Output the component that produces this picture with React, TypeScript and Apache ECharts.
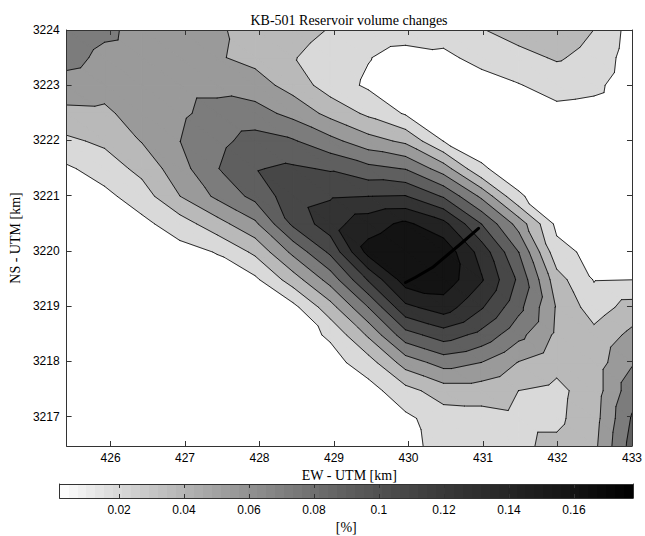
import React, { useEffect, useRef } from "react";
import * as echarts from "echarts";

const TITLE = "KB-501 Reservoir volume changes";

// grid nodes (EW west->east, NS north->south)
const X_NODES = [425.41, 425.92, 426.42, 426.93, 427.43, 427.94, 428.45, 428.95, 429.46, 429.96, 430.47, 430.98, 431.48, 431.99, 432.49, 433.0];
const Y_NODES = [3224.0, 3223.5, 3223.0, 3222.49, 3221.99, 3221.49, 3220.99, 3220.49, 3219.98, 3219.48, 3218.98, 3218.48, 3217.98, 3217.47, 3216.97, 3216.47];

// volume change [%], one row per NS node (north first)
const VOLUME_CHANGE = [
  [0.0829, 0.0758, 0.0670, 0.0670, 0.0573, 0.0476, 0.0432, 0.0361, 0.0299, 0.0282, 0.0264, 0.0361, 0.0441, 0.0458, 0.0369, 0.0123],
  [0.0785, 0.0679, 0.0661, 0.0670, 0.0564, 0.0494, 0.0379, 0.0299, 0.0202, 0.0123, 0.0158, 0.0246, 0.0317, 0.0388, 0.0317, 0.0105],
  [0.0652, 0.0617, 0.0661, 0.0679, 0.0679, 0.0626, 0.0476, 0.0282, 0.0167, 0.0105, 0.0096, 0.0123, 0.0185, 0.0264, 0.0238, 0.0088],
  [0.0502, 0.0511, 0.0635, 0.0697, 0.0776, 0.0794, 0.0670, 0.0494, 0.0335, 0.0176, 0.0123, 0.0096, 0.0105, 0.0141, 0.0123, 0.0070],
  [0.0335, 0.0405, 0.0555, 0.0721, 0.0847, 0.0970, 0.0917, 0.0776, 0.0617, 0.0511, 0.0190, 0.0132, 0.0088, 0.0096, 0.0070, 0.0052],
  [0.0167, 0.0273, 0.0423, 0.0652, 0.0891, 0.1067, 0.1102, 0.1058, 0.0952, 0.0891, 0.0635, 0.0211, 0.0123, 0.0088, 0.0061, 0.0052],
  [0.0105, 0.0149, 0.0282, 0.0545, 0.0758, 0.0952, 0.1182, 0.1235, 0.1252, 0.1261, 0.1058, 0.0688, 0.0211, 0.0105, 0.0070, 0.0061],
  [0.0079, 0.0105, 0.0149, 0.0282, 0.0476, 0.0688, 0.1111, 0.1358, 0.1535, 0.1641, 0.1482, 0.1075, 0.0652, 0.0149, 0.0096, 0.0088],
  [0.0070, 0.0088, 0.0105, 0.0132, 0.0202, 0.0405, 0.0767, 0.1111, 0.1667, 0.1747, 0.1729, 0.1358, 0.0899, 0.0255, 0.0141, 0.0123],
  [0.0061, 0.0079, 0.0088, 0.0105, 0.0105, 0.0158, 0.0458, 0.0794, 0.1270, 0.1694, 0.1711, 0.1447, 0.1041, 0.0441, 0.0185, 0.0193],
  [0.0052, 0.0070, 0.0079, 0.0088, 0.0088, 0.0105, 0.0141, 0.0476, 0.0899, 0.1385, 0.1517, 0.1270, 0.0952, 0.0529, 0.0282, 0.0441],
  [0.0052, 0.0061, 0.0070, 0.0079, 0.0079, 0.0088, 0.0105, 0.0220, 0.0573, 0.1005, 0.1164, 0.1023, 0.0776, 0.0511, 0.0423, 0.0591],
  [0.0043, 0.0052, 0.0061, 0.0070, 0.0079, 0.0088, 0.0088, 0.0123, 0.0291, 0.0626, 0.0794, 0.0721, 0.0538, 0.0423, 0.0458, 0.0705],
  [0.0043, 0.0052, 0.0061, 0.0070, 0.0070, 0.0079, 0.0079, 0.0096, 0.0123, 0.0308, 0.0458, 0.0458, 0.0369, 0.0326, 0.0458, 0.0829],
  [0.0035, 0.0043, 0.0052, 0.0061, 0.0070, 0.0079, 0.0070, 0.0088, 0.0096, 0.0158, 0.0282, 0.0299, 0.0335, 0.0335, 0.0476, 0.0917],
  [0.0035, 0.0043, 0.0052, 0.0061, 0.0070, 0.0079, 0.0070, 0.0079, 0.0088, 0.0149, 0.0246, 0.0264, 0.0344, 0.0405, 0.0502, 0.0970],
];

const CONTOUR_LEVELS = [0.0194, 0.037, 0.0547, 0.0723, 0.09, 0.1076, 0.1253, 0.1429, 0.1606];

const X_TICKS = [426, 427, 428, 429, 430, 431, 432, 433];
const Y_TICKS = [3217, 3218, 3219, 3220, 3221, 3222, 3223, 3224];
const CBAR_TICKS = [0.02, 0.04, 0.06, 0.08, 0.1, 0.12, 0.14, 0.16];
const CBAR_RANGE = [0.0017, 0.1782];

// well trajectory
const WELL_EW = [429.96, 430.09, 430.32, 430.71, 430.94];
const WELL_NS = [3219.43, 3219.52, 3219.7, 3220.14, 3220.41];

// colormap (value -> gray level), styling
const GRAY_MAP: number[][] = [
  [0.0017, 255], [0.0194, 217], [0.037, 185], [0.0547, 154], [0.0723, 124],
  [0.09, 95], [0.1076, 71], [0.1253, 51], [0.1429, 34], [0.1606, 19], [0.1782, 0],
];

function grayAt(v: number): string {
  let g = GRAY_MAP[0][1];
  if (v >= GRAY_MAP[GRAY_MAP.length - 1][0]) g = GRAY_MAP[GRAY_MAP.length - 1][1];
  else {
    for (let k = 0; k < GRAY_MAP.length - 1; k++) {
      const [v0, g0] = GRAY_MAP[k];
      const [v1, g1] = GRAY_MAP[k + 1];
      if (v >= v0 && v <= v1) {
        g = g0 + ((v - v0) / (v1 - v0)) * (g1 - g0);
        break;
      }
    }
  }
  const q = Math.round(g);
  return `rgb(${q},${q},${q})`;
}

const BAND_COLORS = [grayAt(CBAR_RANGE[0]), ...CONTOUR_LEVELS.map(grayAt)];

type Pt = { p: number[]; v: number };

function clipPoly(poly: Pt[], level: number, sign: number): Pt[] {
  const out: Pt[] = [];
  const n = poly.length;
  for (let k = 0; k < n; k++) {
    const a = poly[k];
    const b = poly[(k + 1) % n];
    const da = sign * (a.v - level);
    const db = sign * (b.v - level);
    if (da >= 0) out.push(a);
    if ((da >= 0) !== (db >= 0)) {
      const t = da / (da - db);
      out.push({ p: [a.p[0] + t * (b.p[0] - a.p[0]), a.p[1] + t * (b.p[1] - a.p[1])], v: level });
    }
  }
  return out;
}

function cellTriangles(api: any): Pt[][] {
  const i = api.value(2);
  const j = api.value(3);
  const idx = [[i, j], [i + 1, j], [i + 1, j + 1], [i, j + 1]];
  const c = idx.map(([a, b]) => ({ p: api.coord([X_NODES[a], Y_NODES[b]]), v: VOLUME_CHANGE[b][a] }));
  return [[c[0], c[1], c[2]], [c[0], c[2], c[3]]];
}

const CELLS: number[][] = [];
for (let j = 0; j < Y_NODES.length - 1; j++) {
  for (let i = 0; i < X_NODES.length - 1; i++) {
    CELLS.push([X_NODES[i], Y_NODES[j], i, j]);
  }
}

const SERIF = "'Liberation Serif', 'Times New Roman', serif";
const SANS = "'Liberation Sans', Arial, sans-serif";
const AX = "#333333";

export default function App() {
  const ref = useRef<HTMLDivElement>(null);
  useEffect(() => {
    if (!ref.current) return;
    const chart = echarts.init(ref.current, undefined, { renderer: "svg" });

    const cbarStops: any[] = [];
    const steps = 64;
    for (let k = 0; k < steps; k++) {
      const v = CBAR_RANGE[0] + ((k + 0.5) / steps) * (CBAR_RANGE[1] - CBAR_RANGE[0]);
      const col = grayAt(v);
      cbarStops.push({ offset: k / steps, color: col });
      cbarStops.push({ offset: (k + 1) / steps, color: col });
    }

    const tickLabel = { fontFamily: SANS, fontSize: 12, color: "#000" };
    const nameStyle = { fontFamily: SERIF, fontSize: 14, color: "#000" };

    const option: any = {
      animation: false,
      backgroundColor: "#ffffff",
      title: {
        text: TITLE,
        left: 344,
        top: 8,
        textAlign: "center",
        textStyle: { fontFamily: SERIF, fontSize: 14, fontWeight: "normal", color: "#000" },
      },
      grid: [
        { left: 59.6, right: 12, top: 30, bottom: 90 },
        { left: 59.6, right: 12, top: 484, height: 14 },
      ],
      xAxis: [
        {
          gridIndex: 0, type: "value", min: 425.41, max: 433, position: "bottom", z: 10,
          name: "EW - UTM [km]", nameLocation: "middle", nameGap: 20, nameTextStyle: nameStyle,
          axisLine: { onZero: false, lineStyle: { color: AX, width: 1 } },
          axisTick: { inside: true, length: 5, customValues: X_TICKS, lineStyle: { color: AX } },
          axisLabel: { customValues: X_TICKS, margin: 6, ...tickLabel, formatter: (v: number) => String(v) },
          splitLine: { show: false },
        },
        {
          gridIndex: 0, type: "value", min: 425.41, max: 433, position: "top", z: 10,
          axisLine: { onZero: false, lineStyle: { color: AX, width: 1 } },
          axisTick: { inside: true, length: 5, customValues: X_TICKS, lineStyle: { color: AX } },
          axisLabel: { show: false },
          splitLine: { show: false },
        },
        {
          gridIndex: 1, type: "value", min: CBAR_RANGE[0], max: CBAR_RANGE[1], position: "bottom", z: 10,
          name: "[%]", nameLocation: "middle", nameGap: 22, nameTextStyle: nameStyle,
          axisLine: { onZero: false, lineStyle: { color: AX, width: 1 } },
          axisTick: { inside: true, length: 4, customValues: CBAR_TICKS, lineStyle: { color: AX } },
          axisLabel: { customValues: CBAR_TICKS, margin: 6, ...tickLabel, formatter: (v: number) => String(v) },
          splitLine: { show: false },
        },
        {
          gridIndex: 1, type: "value", min: CBAR_RANGE[0], max: CBAR_RANGE[1], position: "top", z: 10,
          axisLine: { onZero: false, lineStyle: { color: AX, width: 1 } },
          axisTick: { inside: true, length: 4, customValues: CBAR_TICKS, lineStyle: { color: AX } },
          axisLabel: { show: false },
          splitLine: { show: false },
        },
      ],
      yAxis: [
        {
          gridIndex: 0, type: "value", min: 3216.47, max: 3224, position: "left", z: 10,
          name: "NS - UTM [km]", nameLocation: "middle", nameGap: 39, nameRotate: 90, nameTextStyle: nameStyle,
          axisLine: { onZero: false, lineStyle: { color: AX, width: 1 } },
          axisTick: { inside: true, length: 5, customValues: Y_TICKS, lineStyle: { color: AX } },
          axisLabel: { customValues: Y_TICKS, margin: 7, ...tickLabel, formatter: (v: number) => String(v) },
          splitLine: { show: false },
        },
        {
          gridIndex: 0, type: "value", min: 3216.47, max: 3224, position: "right", z: 10,
          axisLine: { onZero: false, lineStyle: { color: AX, width: 1 } },
          axisTick: { inside: true, length: 5, customValues: Y_TICKS, lineStyle: { color: AX } },
          axisLabel: { show: false },
          splitLine: { show: false },
        },
        {
          gridIndex: 1, type: "value", min: 0, max: 1, position: "left", z: 10,
          axisLine: { onZero: false, lineStyle: { color: AX, width: 1 } },
          axisTick: { show: false }, axisLabel: { show: false }, splitLine: { show: false },
        },
        {
          gridIndex: 1, type: "value", min: 0, max: 1, position: "right", z: 10,
          axisLine: { onZero: false, lineStyle: { color: AX, width: 1 } },
          axisTick: { show: false }, axisLabel: { show: false }, splitLine: { show: false },
        },
      ],
      series: [
        {
          type: "custom",
          name: "fill",
          xAxisIndex: 0,
          yAxisIndex: 0,
          z: 1,
          silent: true,
          clip: true,
          encode: { x: 0, y: 1 },
          data: CELLS,
          renderItem: (_params: any, api: any) => {
            const children: any[] = [];
            for (const tri of cellTriangles(api)) {
              for (let b = 0; b < BAND_COLORS.length; b++) {
                let poly: Pt[] = tri;
                if (b > 0) poly = clipPoly(poly, CONTOUR_LEVELS[b - 1], 1);
                if (poly.length >= 3 && b < CONTOUR_LEVELS.length) poly = clipPoly(poly, CONTOUR_LEVELS[b], -1);
                if (poly.length >= 3) {
                  children.push({
                    type: "polygon",
                    shape: { points: poly.map((q) => q.p) },
                    style: { fill: BAND_COLORS[b], stroke: BAND_COLORS[b], lineWidth: 1.2, lineJoin: "round" },
                  });
                }
              }
            }
            return { type: "group", children };
          },
        },
        {
          type: "custom",
          name: "contours",
          xAxisIndex: 0,
          yAxisIndex: 0,
          z: 2,
          silent: true,
          clip: true,
          encode: { x: 0, y: 1 },
          data: CELLS,
          renderItem: (_params: any, api: any) => {
            const children: any[] = [];
            for (const tri of cellTriangles(api)) {
              for (const L of CONTOUR_LEVELS) {
                const pts: number[][] = [];
                for (let e = 0; e < 3; e++) {
                  const a = tri[e];
                  const b = tri[(e + 1) % 3];
                  if ((a.v - L) * (b.v - L) < 0) {
                    const t = (L - a.v) / (b.v - a.v);
                    pts.push([a.p[0] + t * (b.p[0] - a.p[0]), a.p[1] + t * (b.p[1] - a.p[1])]);
                  }
                }
                if (pts.length === 2) {
                  children.push({
                    type: "line",
                    shape: { x1: pts[0][0], y1: pts[0][1], x2: pts[1][0], y2: pts[1][1] },
                    style: { stroke: "#000", lineWidth: 0.8, lineCap: "round" },
                  });
                }
              }
            }
            return { type: "group", children };
          },
        },
        {
          type: "line",
          name: "well",
          xAxisIndex: 0,
          yAxisIndex: 0,
          z: 5,
          silent: true,
          symbol: "none",
          showSymbol: false,
          smooth: false,
          lineStyle: { color: "#000", width: 3, cap: "round", join: "round" },
          data: WELL_EW.map((x, k) => [x, WELL_NS[k]]),
        },
        {
          type: "custom",
          name: "colorbar",
          xAxisIndex: 2,
          yAxisIndex: 2,
          z: 1,
          silent: true,
          encode: { x: [0, 2], y: [1, 3] },
          data: [[CBAR_RANGE[0], 0, CBAR_RANGE[1], 1]],
          renderItem: (_params: any, api: any) => {
            const p0 = api.coord([api.value(0), api.value(1)]);
            const p1 = api.coord([api.value(2), api.value(3)]);
            return {
              type: "rect",
              shape: { x: p0[0], y: p1[1], width: p1[0] - p0[0], height: p0[1] - p1[1] },
              style: { fill: new echarts.graphic.LinearGradient(0, 0, 1, 0, cbarStops) },
            };
          },
        },
      ],
    };

    chart.setOption(option);
    return () => {
      chart.dispose();
    };
  }, []);

  return (
    <div
      ref={ref}
      style={{ position: "fixed", left: 0, top: 0, width: 645, height: 536, background: "#fff" }}
    />
  );
}
